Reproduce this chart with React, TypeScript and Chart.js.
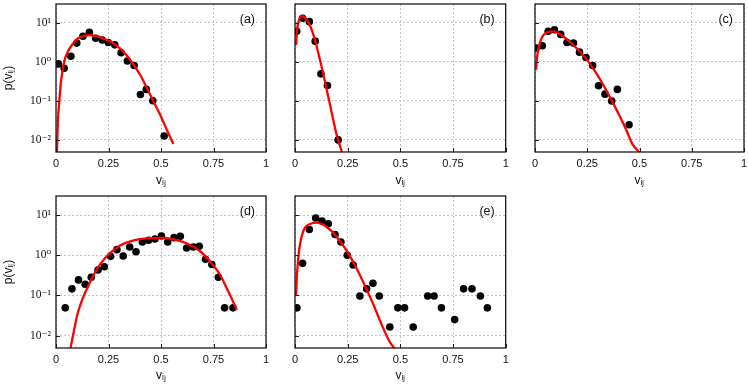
import React, { useEffect, useRef } from "react";
import { Chart, registerables } from "chart.js";

Chart.register(...registerables);

// ---- shared axis data ----
const xTickValues = [0, 0.25, 0.5, 0.75, 1];
const xTickLabels = ["0", "0.25", "0.5", "0.75", "1"];
const yTickValues = [0.01, 0.1, 1, 10];
const yTickLabels = ["10⁻²", "10⁻¹", "10⁰", "10¹"];
const panelLabels = ["(a)", "(b)", "(c)", "(d)", "(e)"];
const xAxisTitle = "vᵢⱼ";
const yAxisTitle = "p(vᵢⱼ)";

// ---- panel (a) ----
const aDotV = [0.011, 0.039, 0.071, 0.099, 0.128, 0.159, 0.189, 0.22, 0.249, 0.28, 0.31, 0.34, 0.372, 0.402, 0.43, 0.461, 0.515];
const aDotP = [0.88, 0.68, 1.38, 3.0, 4.5, 5.7, 4.0, 3.6, 3.1, 2.7, 1.7, 1.04, 0.8, 0.145, 0.196, 0.1, 0.0126];
const aFitV = [0.004, 0.009, 0.016, 0.024, 0.039, 0.055, 0.079, 0.102, 0.134, 0.157, 0.189, 0.22, 0.26, 0.307, 0.339, 0.37, 0.402, 0.433, 0.465, 0.496, 0.528, 0.559];
const aFitP = [0.004, 0.03, 0.1, 0.32, 1.0, 1.76, 2.83, 3.9, 4.6, 4.8, 4.6, 4.06, 3.23, 2.13, 1.4, 0.83, 0.45, 0.21, 0.094, 0.044, 0.018, 0.0079];

// ---- panel (b) ----
const bDotV = [0.008, 0.036, 0.068, 0.096, 0.123, 0.154, 0.205];
const bDotP = [6.0, 12.9, 10.6, 3.36, 0.49, 0.246, 0.01];
const bFitV = [0.005, 0.011, 0.019, 0.031, 0.055, 0.079, 0.102, 0.126, 0.15, 0.173, 0.197, 0.225];
const bFitP = [2.7, 7.3, 11.7, 14.7, 12.2, 6.6, 2.57, 0.75, 0.2, 0.053, 0.014, 0.0045];

// ---- panel (c) ----
const cDotV = [0.005, 0.035, 0.063, 0.093, 0.123, 0.153, 0.184, 0.213, 0.244, 0.276, 0.304, 0.335, 0.367, 0.394, 0.45];
const cDotP = [2.25, 2.57, 6.0, 6.6, 5.0, 3.1, 3.0, 1.76, 1.28, 0.8, 0.242, 0.148, 0.099, 0.196, 0.0245];
const cFitV = [0.005, 0.011, 0.024, 0.039, 0.063, 0.079, 0.102, 0.134, 0.165, 0.205, 0.244, 0.283, 0.323, 0.362, 0.402, 0.441, 0.465, 0.504];
const cFitP = [0.62, 1.46, 3.1, 4.7, 5.8, 6.0, 5.7, 4.5, 3.3, 2.05, 1.2, 0.62, 0.277, 0.114, 0.044, 0.016, 0.008, 0.0045];

// ---- panel (d) ----
const dDotV = [0.044, 0.076, 0.107, 0.139, 0.168, 0.2, 0.23, 0.26, 0.29, 0.32, 0.351, 0.381, 0.411, 0.441, 0.471, 0.502, 0.532, 0.562, 0.592, 0.622, 0.654, 0.682, 0.712, 0.742, 0.773, 0.803, 0.843];
const dDotP = [0.049, 0.146, 0.244, 0.19, 0.284, 0.43, 0.52, 0.94, 1.38, 0.96, 1.61, 1.23, 2.15, 2.36, 2.55, 3.02, 2.15, 2.75, 2.96, 1.52, 1.61, 1.67, 0.8, 0.59, 0.284, 0.049, 0.049];
const dFitV = [0.068, 0.087, 0.102, 0.126, 0.15, 0.181, 0.213, 0.26, 0.307, 0.37, 0.433, 0.496, 0.559, 0.622, 0.685, 0.732, 0.78, 0.819, 0.861];
const dFitP = [0.0045, 0.0145, 0.034, 0.081, 0.157, 0.337, 0.63, 1.16, 1.77, 2.36, 2.65, 2.7, 2.5, 1.99, 1.28, 0.72, 0.337, 0.13, 0.044];

// ---- panel (e) ----
const eDotV = [0.009, 0.036, 0.068, 0.098, 0.128, 0.158, 0.19, 0.218, 0.248, 0.276, 0.308, 0.34, 0.37, 0.4, 0.45, 0.488, 0.52, 0.561, 0.63, 0.66, 0.695, 0.758, 0.8, 0.84, 0.88, 0.913];
const eDotP = [0.049, 0.63, 4.4, 8.5, 7.1, 6.1, 3.3, 2.15, 1.0, 0.575, 0.097, 0.146, 0.2, 0.097, 0.0163, 0.049, 0.049, 0.0163, 0.097, 0.097, 0.049, 0.025, 0.146, 0.146, 0.097, 0.049];
const eFitV = [0.005, 0.008, 0.013, 0.02, 0.032, 0.047, 0.071, 0.103, 0.134, 0.174, 0.213, 0.253, 0.292, 0.332, 0.371, 0.411, 0.45, 0.485];
const eFitP = [0.1, 0.25, 0.6, 1.41, 3.0, 4.9, 6.0, 6.5, 5.8, 4.0, 2.27, 1.12, 0.475, 0.173, 0.061, 0.019, 0.0069, 0.004];

const Y_MIN = 0.0049;
const Y_MAX = 30;

const SANS = '"Liberation Sans", Arial, sans-serif';
const SERIF = '"Liberation Serif", "DejaVu Serif", serif';

type Spec = {
  label: string;
  dotV: number[];
  dotP: number[];
  fitV: number[];
  fitP: number[];
  left: number;
  top: number;
  width: number;
  height: number;
  showY: boolean;
  yWidth: number;
  xHeight: number;
  padTop: number;
  padRight: number;
};

const framePlugin = {
  id: "frame",
  afterDraw(chart: any, _args: any, opts: any) {
    const { ctx, chartArea } = chart;
    const { left, right, top, bottom } = chartArea;
    const xs = chart.scales.x;
    const ys = chart.scales.y;
    ctx.save();
    ctx.strokeStyle = "#1a1a1a";
    ctx.lineWidth = 1;
    ctx.beginPath();
    for (const v of xTickValues) {
      const px = Math.round(xs.getPixelForValue(v)) + 0.5;
      ctx.moveTo(px, bottom);
      ctx.lineTo(px, bottom - 4);
    }
    for (const v of yTickValues) {
      const py = Math.round(ys.getPixelForValue(v)) + 0.5;
      ctx.moveTo(left, py);
      ctx.lineTo(left + 4, py);
    }
    ctx.stroke();
    ctx.lineWidth = 1.3;
    ctx.strokeRect(left, top, right - left, bottom - top);
    ctx.fillStyle = "#111";
    ctx.font = "12.5px " + SANS;
    ctx.textAlign = "right";
    ctx.textBaseline = "top";
    ctx.fillText(opts.label, right - 11, top + 9);
    ctx.restore();
  },
};

function zeroPad(s: any) {
  s.paddingTop = 0;
  s.paddingBottom = 0;
  s.paddingLeft = 0;
  s.paddingRight = 0;
}

function Panel({ spec }: { spec: Spec }) {
  const ref = useRef<HTMLCanvasElement | null>(null);
  useEffect(() => {
    if (!ref.current) return;
    const dots = spec.dotV.map((v, i) => ({ x: v, y: spec.dotP[i] }));
    const fit = spec.fitV.map((v, i) => ({ x: v, y: spec.fitP[i] }));
    const chart = new Chart(ref.current, {
      type: "scatter",
      data: {
        datasets: [
          {
            data: fit,
            showLine: true,
            borderColor: "#ff0000",
            borderWidth: 2.3,
            pointRadius: 0,
            cubicInterpolationMode: "monotone",
            clip: 0,
            order: 0,
          } as any,
          {
            data: dots,
            showLine: false,
            backgroundColor: "#000",
            borderColor: "#000",
            borderWidth: 0,
            pointRadius: 3.8,
            clip: 0,
            order: 1,
          } as any,
        ],
      },
      options: {
        responsive: false,
        animation: false,
        events: [],
        layout: { padding: { left: 0, right: spec.padRight, top: spec.padTop, bottom: 0 } },
        plugins: {
          legend: { display: false },
          tooltip: { enabled: false },
          frame: { label: spec.label },
        } as any,
        scales: {
          x: {
            type: "linear",
            min: 0,
            max: 1,
            afterBuildTicks: (s: any) => {
              s.ticks = xTickValues.map((v) => ({ value: v }));
            },
            afterFit: (s: any) => {
              s.height = spec.xHeight;
              zeroPad(s);
            },
            ticks: {
              autoSkip: false,
              maxRotation: 0,
              padding: 5,
              color: "#111",
              font: { family: SANS, size: 11 },
              callback: (_v: any, i: number) => xTickLabels[i],
            },
            grid: { color: "#c4c4c4", lineWidth: 1, drawTicks: false },
            border: { display: false, dash: [2, 2] },
            title: {
              display: true,
              text: xAxisTitle,
              color: "#111",
              font: { family: SANS, size: 12 },
              padding: { top: 0, bottom: 2 },
            },
          },
          y: {
            type: "logarithmic",
            min: Y_MIN,
            max: Y_MAX,
            afterBuildTicks: (s: any) => {
              s.ticks = yTickValues.map((v) => ({ value: v }));
            },
            afterFit: (s: any) => {
              s.width = spec.yWidth;
              zeroPad(s);
            },
            ticks: {
              display: spec.showY,
              autoSkip: false,
              padding: 5,
              color: "#111",
              font: { family: SERIF, size: 11.5 },
              callback: (_v: any, i: number) => yTickLabels[i],
            },
            grid: { color: "#c4c4c4", lineWidth: 1, drawTicks: false },
            border: { display: false, dash: [2, 2] },
            title: {
              display: spec.showY,
              text: yAxisTitle,
              color: "#111",
              font: { family: SANS, size: 12 },
              padding: { top: 1, bottom: 0 },
            },
          },
        },
      } as any,
      plugins: [framePlugin as any],
    });
    return () => chart.destroy();
  }, [spec]);
  return (
    <canvas
      ref={ref}
      width={spec.width}
      height={spec.height}
      style={{ position: "absolute", left: spec.left, top: spec.top, width: spec.width, height: spec.height, display: "block" }}
    />
  );
}

const specs: Spec[] = [
  { label: panelLabels[0], dotV: aDotV, dotP: aDotP, fitV: aFitV, fitP: aFitP, left: 0, top: 0, width: 270, height: 190, showY: true, yWidth: 56, xHeight: 38, padTop: 1, padRight: 3.3 },
  { label: panelLabels[1], dotV: bDotV, dotP: bDotP, fitV: bFitV, fitP: bFitP, left: 270, top: 0, width: 240, height: 190, showY: false, yWidth: 25, xHeight: 38, padTop: 1, padRight: 4.3 },
  { label: panelLabels[2], dotV: cDotV, dotP: cDotP, fitV: cFitV, fitP: cFitP, left: 510, top: 0, width: 238, height: 190, showY: false, yWidth: 25, xHeight: 38, padTop: 1, padRight: 3 },
  { label: panelLabels[3], dotV: dDotV, dotP: dDotP, fitV: dFitV, fitP: dFitP, left: 0, top: 190, width: 270, height: 195, showY: true, yWidth: 56, xHeight: 37, padTop: 6, padRight: 3.3 },
  { label: panelLabels[4], dotV: eDotV, dotP: eDotP, fitV: eFitV, fitP: eFitP, left: 270, top: 190, width: 240, height: 195, showY: false, yWidth: 25, xHeight: 37, padTop: 6, padRight: 4.3 },
];

export default function App() {
  return (
    <div style={{ position: "fixed", left: 0, top: 0, width: 748, height: 385, background: "#fff", overflow: "hidden" }}>
      {specs.map((s) => (
        <Panel key={s.label} spec={s} />
      ))}
    </div>
  );
}
